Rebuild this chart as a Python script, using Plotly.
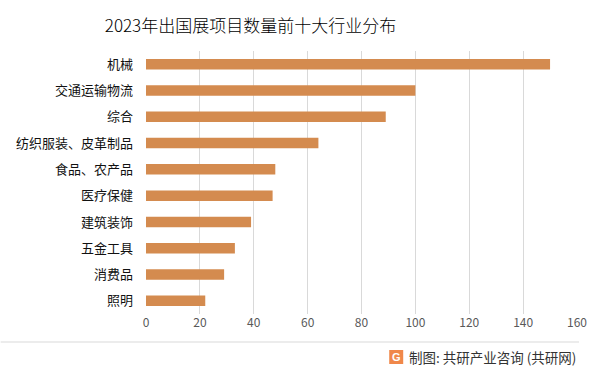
import plotly.graph_objects as go

categories = ["机械", "交通运输物流", "综合", "纺织服装、皮革制品", "食品、农产品",
              "医疗保健", "建筑装饰", "五金工具", "消费品", "照明"]
values = [150, 100, 89, 64, 48, 47, 39, 33, 29, 22]
x_ticks = [0, 20, 40, 60, 80, 100, 120, 140, 160]

W, H = 596, 373
L, R, T, B = 145.5, 19, 51, 59
pw = W - L - R
ph = H - T - B

def px_x(x):
    return (x - L) / pw

def px_y(y):
    return (H - B - y) / ph

fig = go.Figure(go.Bar(
    x=values, y=categories, orientation="h",
    marker=dict(color="#D48B4F", line=dict(width=0)),
    width=0.4,
))

fig.update_layout(
    width=W, height=H,
    margin=dict(l=L, r=R, t=T, b=B, pad=0, autoexpand=False),
    paper_bgcolor="white", plot_bgcolor="white",
    font=dict(family="Noto Sans CJK SC, sans-serif"),
    showlegend=False,
    title=dict(text="2023年出国展项目数量前十大行业分布",
               x=250.5 / W, xanchor="center", xref="container",
               y=1 - 26 / H, yanchor="middle", yref="container",
               automargin=False,
               font=dict(size=17, color="#000000", weight=300,
                         family="Noto Sans CJK SC, sans-serif")),
    xaxis=dict(range=[0, 160], tickvals=x_ticks, showgrid=True, gridcolor="#d9d9d9",
               gridwidth=1, zeroline=False, showline=False, ticks="", automargin=False,
               tickfont=dict(size=12, color="#595959"), fixedrange=True),
    yaxis=dict(autorange="reversed", showgrid=False, zeroline=False, showline=False,
               ticks="", ticklabelstandoff=12, automargin=False,
               tickfont=dict(size=13, color="#111111")),
    bargap=0.6,
)

# separator line
fig.add_shape(type="line", xref="paper", yref="paper",
              x0=px_x(0), x1=px_x(579), y0=px_y(342), y1=px_y(342),
              line=dict(color="#d9d9d9", width=1))

# logo
fig.add_shape(type="rect", xref="paper", yref="paper",
              x0=px_x(389), x1=px_x(403), y0=px_y(364), y1=px_y(350),
              fillcolor="#F0884A", line=dict(width=0), layer="above")
fig.add_annotation(text="<b>G</b>", xref="paper", yref="paper",
                   x=px_x(396), y=px_y(357), showarrow=False,
                   font=dict(size=11, color="white", family="Arial"),
                   xanchor="center", yanchor="middle")

# footer
fig.add_annotation(text="制图: 共研产业咨询 (共研网)", xref="paper", yref="paper",
                   x=px_x(578), y=px_y(357), showarrow=False,
                   xanchor="right", yanchor="middle",
                   font=dict(size=13.5, color="#333333", family="Noto Sans CJK SC, sans-serif"))

fig.write_html("out.html", config={"displayModeBar": False},
               post_script="document.body.style.margin='0';document.body.style.overflow='hidden';")
